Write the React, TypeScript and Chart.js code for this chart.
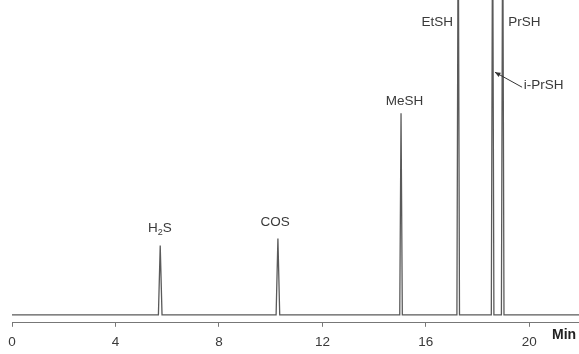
import React, { useEffect, useRef } from "react";
import { Chart, registerables } from "chart.js";

Chart.register(...registerables);

// Retention times (min), peak heights (signal units), base half-widths (min)
const peakNames = ["H2S", "COS", "MeSH", "EtSH", "i-PrSH", "PrSH"];
const peakTimes = [5.73, 10.28, 15.04, 17.25, 18.58, 18.97];
const peakHeights = [69, 76, 201, 420, 420, 420];
const peakHalfWidths = [0.07, 0.07, 0.05, 0.05, 0.05, 0.05];
const runStart = 0;
const runEnd = 22;
const xTicks = [0, 4, 8, 12, 16, 20];

// Annotation placement (data units)
const labelX = [5.72, 10.17, 15.17, 17.05, 19.78, 19.18];
const labelY = [86, 92, 213, 292, 229, 292];
const labelAlign = ["center", "center", "center", "right", "left", "left"];

const FONT = "Arial, 'Liberation Sans', Helvetica, sans-serif";

function buildPoints() {
  const pts: { x: number; y: number }[] = [{ x: runStart, y: 0 }];
  peakTimes.forEach((t, i) => {
    const w = peakHalfWidths[i];
    pts.push({ x: t - w, y: 0 });
    pts.push({ x: t, y: peakHeights[i] });
    pts.push({ x: t + w, y: 0 });
  });
  pts.push({ x: runEnd, y: 0 });
  return pts;
}

const annotationPlugin = {
  id: "peakLabels",
  afterDatasetsDraw(chart: any) {
    const { ctx, scales } = chart;
    const xs = scales.x;
    const ys = scales.y;
    ctx.save();
    ctx.fillStyle = "#3a3a3a";
    ctx.textBaseline = "middle";
    peakNames.forEach((name, i) => {
      const px = xs.getPixelForValue(labelX[i]);
      const py = ys.getPixelForValue(labelY[i]);
      if (name === "H2S") {
        const big = `13.5px ${FONT}`;
        const small = `9px ${FONT}`;
        ctx.font = big;
        const wH = ctx.measureText("H").width;
        const wS = ctx.measureText("S").width;
        ctx.font = small;
        const w2 = ctx.measureText("2").width;
        const total = wH + w2 + wS;
        let x0 = px - total / 2;
        ctx.textAlign = "left";
        ctx.font = big;
        ctx.fillText("H", x0, py);
        ctx.font = small;
        ctx.fillText("2", x0 + wH, py + 4);
        ctx.font = big;
        ctx.fillText("S", x0 + wH + w2, py);
      } else {
        ctx.font = `13.5px ${FONT}`;
        ctx.textAlign = labelAlign[i];
        ctx.fillText(name, px, py);
      }
    });
    // arrow for i-PrSH
    const ax0 = xs.getPixelForValue(19.72);
    const ay0 = ys.getPixelForValue(227);
    const ax1 = xs.getPixelForValue(18.67);
    const ay1 = ys.getPixelForValue(242);
    ctx.strokeStyle = "#333";
    ctx.lineWidth = 1;
    ctx.beginPath();
    ctx.moveTo(ax0, ay0);
    ctx.lineTo(ax1, ay1);
    ctx.stroke();
    const ang = Math.atan2(ay1 - ay0, ax1 - ax0);
    const L = 6;
    ctx.fillStyle = "#333";
    ctx.beginPath();
    ctx.moveTo(ax1, ay1);
    ctx.lineTo(ax1 - L * Math.cos(ang - 0.4), ay1 - L * Math.sin(ang - 0.4));
    ctx.lineTo(ax1 - L * Math.cos(ang + 0.4), ay1 - L * Math.sin(ang + 0.4));
    ctx.closePath();
    ctx.fill();
    // axis title
    ctx.font = `bold 14px ${FONT}`;
    ctx.fillStyle = "#222";
    ctx.textAlign = "left";
    ctx.fillText("Min", 552, 335);
    ctx.restore();
  },
};

export default function App() {
  const ref = useRef<HTMLCanvasElement>(null);
  useEffect(() => {
    if (!ref.current) return;
    const chart = new Chart(ref.current, {
      type: "line",
      data: {
        datasets: [
          {
            data: buildPoints(),
            borderColor: "#5a5a5a",
            borderWidth: 1.3,
            pointRadius: 0,
            tension: 0,
            fill: false,
          },
        ],
      },
      options: {
        animation: false,
        responsive: false,
        devicePixelRatio: 1,
        layout: { padding: { left: 12, right: 0, top: 0, bottom: -3 } },
        plugins: { legend: { display: false }, tooltip: { enabled: false } },
        scales: {
          x: {
            type: "linear",
            min: 0,
            max: 21.92,
            afterBuildTicks: (scale: any) => {
              scale.ticks = xTicks.map((v) => ({ value: v }));
            },
            grid: {
              display: true,
              drawOnChartArea: false,
              drawTicks: true,
              tickLength: 4,
              color: "#777",
            },
            border: { display: true, color: "#777", width: 1 },
            ticks: {
              color: "#3a3a3a",
              font: { family: FONT, size: 13.5 },
              padding: 7,
              maxRotation: 0,
            },
          },
          y: {
            display: false,
            min: -8,
            max: 314,
          },
        },
      },
      plugins: [annotationPlugin],
    });
    return () => chart.destroy();
  }, []);
  return (
    <div style={{ position: "absolute", left: 0, top: 0, width: 579, height: 354, background: "#fff" }}>
      <canvas ref={ref} width={579} height={354} />
    </div>
  );
}
